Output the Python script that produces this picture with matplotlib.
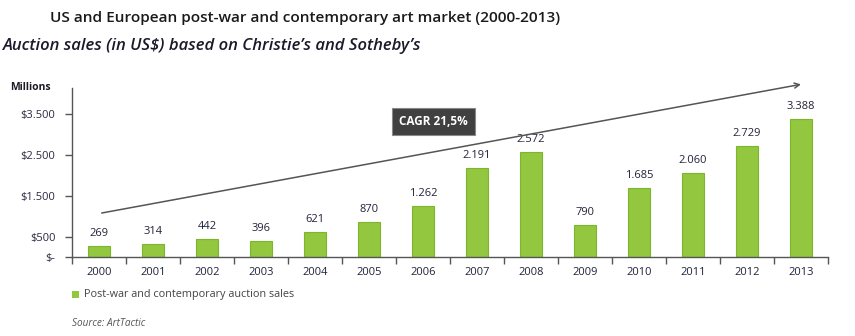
import matplotlib
matplotlib.use("Agg")
import matplotlib.pyplot as plt
from matplotlib.patches import Rectangle

years = ["2000", "2001", "2002", "2003", "2004", "2005", "2006",
         "2007", "2008", "2009", "2010", "2011", "2012", "2013"]
sales = [269, 314, 442, 396, 621, 870, 1262, 2191, 2572, 790, 1685, 2060, 2729, 3388]
ytick_vals = [0, 500, 1500, 2500, 3500]
ytick_labels = ["$-", "$500", "$1.500", "$2.500", "$3.500"]
trend_start = (0.05, 1080)
trend_end = (13.0, 4240)
cagr_label = "CAGR 21,5%"
cagr_pos = (6.2, 3330)

title = "US and European post-war and contemporary art market (2000-2013)"
subtitle = "Auction sales (in US$) based on Christie\u2019s and Sotheby\u2019s"
legend_label = "Post-war and contemporary auction sales"
source = "Source: ArtTactic"

plt.rcParams['font.family'] = ['Open Sans', 'DejaVu Sans']

fig = plt.figure(figsize=(8.55, 3.36), dpi=100)
ax = fig.add_axes([72/855, 1-257/336, (828-72)/855, (257-88)/336])

green = "#92c73f"
x = list(range(len(years)))
ax.bar(x, sales, width=0.39, color=green, edgecolor="#7db52c", linewidth=0.8, zorder=2)
for xi, v in zip(x, sales):
    lbl = f"{v:,}".replace(",", ".")
    ax.annotate(lbl, (xi, v), xytext=(0, 5), textcoords="offset points",
                ha="center", va="bottom", fontsize=8, color="#22223a")

ax.set_xlim(-0.5, 13.5)
ax.set_ylim(0, 4150)

# trend arrow
ax.annotate("", xy=trend_end, xytext=trend_start,
            arrowprops=dict(arrowstyle="->", color="#555555", lw=1.1,
                            shrinkA=0, shrinkB=0, mutation_scale=9),
            annotation_clip=False, zorder=3)
ax.text(cagr_pos[0], cagr_pos[1], cagr_label, ha="center", va="center",
        fontsize=8.5, fontweight="bold", color="white", zorder=4,
        bbox=dict(boxstyle="square,pad=0.6", facecolor="#404040",
                  edgecolor="#888888", linewidth=0.8))

# axes styling
for s in ["top", "right"]:
    ax.spines[s].set_visible(False)
for s in ["left", "bottom"]:
    ax.spines[s].set_color("#555555")
    ax.spines[s].set_linewidth(1.0)

ax.set_yticks(ytick_vals)
ax.set_yticklabels(ytick_labels)
ax.tick_params(axis="y", direction="out", length=5, width=1, color="#555555",
               labelsize=8, labelcolor="#2a2a40", pad=7)

ax.set_xticks([i + 0.5 for i in range(-1, len(years))])
ax.set_xticklabels([])
ax.set_xticks(x, minor=True)
ax.set_xticklabels(years, minor=True)
ax.tick_params(axis="x", which="major", direction="out", length=5, width=1, color="#555555")
ax.tick_params(axis="x", which="minor", length=0, labelsize=8, labelcolor="#22223a", pad=7)

# texts
fig.text(50/855, 1-18/336, title, ha="left", va="center", fontsize=11.1,
         fontweight="semibold", color="#1a1a1a")
fig.text(3/855, 1-46/336, subtitle, ha="left", va="center", fontsize=12,
         fontstyle="italic", fontweight="semibold", color="#1a1a2a")
fig.text(10/855, 1-87/336, "Millions", ha="left", va="center", fontsize=7.5,
         fontweight="bold", color="#1a1a2a")

# legend
fig.patches.append(Rectangle((72/855, 1-298/336), 7/855, 7/336, transform=fig.transFigure,
                             facecolor=green, edgecolor="none"))
fig.text(84/855, 1-295/336, legend_label, ha="left", va="center", fontsize=7.8,
         color="#444444")
fig.text(72/855, 1-323/336, source, ha="left", va="center", fontsize=7.2,
         fontstyle="italic", color="#555555")

fig.savefig("out.png", dpi=100)
